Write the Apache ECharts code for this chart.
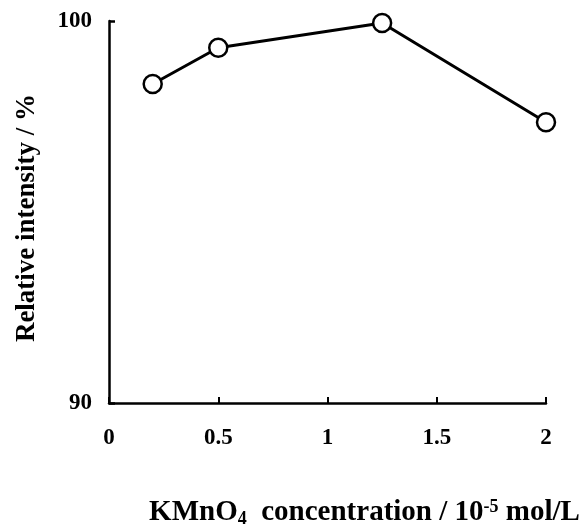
<!DOCTYPE html>
<html>
<head>
<meta charset="utf-8">
<script src="https://cdn.jsdelivr.net/npm/echarts@6/dist/echarts.min.js"></script>
<style>
  html, body { margin: 0; padding: 0; background: #fff; }
  #chart { width: 585px; height: 526px; }
</style>
</head>
<body>
<div id="chart"></div>
<script>
// KMnO4 concentration (10^-5 mol/L) vs relative intensity (%)
var concentration = [0.2, 0.5, 1.25, 2];
var intensity = [98.35, 99.3, 99.95, 97.35];
var xTicks = [0, 0.5, 1, 1.5, 2];
var yTicks = [90, 100];

var serif = '"Liberation Serif", "DejaVu Serif", serif';
var points = [];
for (var i = 0; i < concentration.length; i++) {
	points.push([concentration[i], intensity[i]]);
}

var chart = echarts.init(document.getElementById('chart'));
chart.setOption({
	animation: false,
	grid: { left: 109, right: 39, top: 21, bottom: 123, containLabel: false, outerBoundsMode: 'none' },
	xAxis: {
		type: 'value',
		min: xTicks[0],
		max: xTicks[xTicks.length - 1],
		interval: 0.5,
		splitLine: { show: false },
		axisLine: { lineStyle: { color: '#000', width: 2.5 } },
		axisTick: { inside: true, length: 6, lineStyle: { color: '#000', width: 2 } },
		axisLabel: {
			margin: 24,
			color: '#000',
			fontFamily: serif,
			fontWeight: 'bold',
			fontSize: 23,
			formatter: function (v) { return String(v); }
		},
		name: '{a|KMnO}{sub|4}{a|  concentration / 10}{sup|-5}{a| mol/L}',
		nameLocation: 'middle',
		nameGap: 95,
		nameTextStyle: {
			padding: [0, 0, 0, 74],
			rich: {
				a: { fontFamily: serif, fontWeight: 'bold', fontSize: 29, color: '#000' },
				sub: { fontFamily: serif, fontWeight: 'bold', fontSize: 18, color: '#000', padding: [12, 0, 0, 0] },
				sup: { fontFamily: serif, fontWeight: 'bold', fontSize: 18, color: '#000', padding: [0, 0, 12, 0] }
			}
		}
	},
	yAxis: {
		type: 'value',
		min: yTicks[0],
		max: yTicks[1],
		interval: 10,
		splitLine: { show: false },
		axisLine: { show: true, lineStyle: { color: '#000', width: 2.5 } },
		axisTick: { show: true, inside: true, length: 6, lineStyle: { color: '#000', width: 2.5 } },
		axisLabel: {
			margin: 17,
			color: '#000',
			fontFamily: serif,
			fontWeight: 'bold',
			fontSize: 23
		},
		name: 'Relative intensity / %',
		nameLocation: 'middle',
		nameGap: 68,
		nameTextStyle: {
			color: '#000',
			fontFamily: serif,
			fontWeight: 'bold',
			fontSize: 27,
			padding: [0, 12, 0, 0]
		}
	},
	series: [{
		type: 'line',
		data: points,
		symbol: 'circle',
		symbolSize: 18,
		lineStyle: { color: '#000', width: 3 },
		itemStyle: { color: '#fff', borderColor: '#000', borderWidth: 2.5 }
	}]
});
</script>
</body>
</html>
